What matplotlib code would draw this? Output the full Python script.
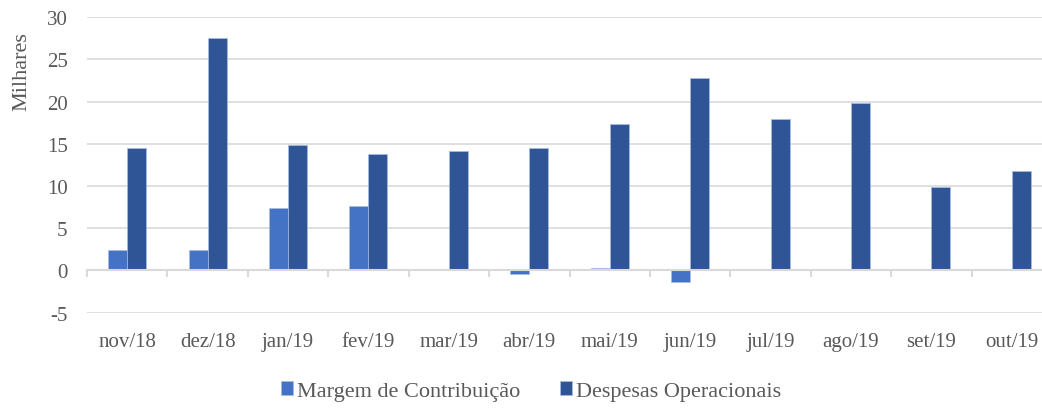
import matplotlib.pyplot as plt
import numpy as np

# chart data (thousands)
months = ['nov/18', 'dez/18', 'jan/19', 'fev/19', 'mar/19', 'abr/19',
          'mai/19', 'jun/19', 'jul/19', 'ago/19', 'set/19', 'out/19']
margem = [2.4, 2.4, 7.4, 7.6, 0.05, -0.4, 0.3, -1.4, 0.0, 0.0, 0.0, 0.0]
despesas = [14.5, 27.5, 14.9, 13.8, 14.2, 14.5, 17.3, 22.8, 18.0, 19.8, 9.9, 11.8]
y_ticks = [-5, 0, 5, 10, 15, 20, 25, 30]

plt.rcParams['font.family'] = ['Liberation Serif', 'DejaVu Serif']
plt.rcParams['axes.unicode_minus'] = False
text_color = '#595959'
grid_color = '#D9D9D9'

fig = plt.figure(figsize=(10.42, 4.10), dpi=100)
ax = fig.add_axes([87 / 1042, 1 - 313.6 / 410, 965 / 1042, (313.6 - 18.3) / 410])

x = np.arange(len(months))
w = 0.236
ax.bar(x - w / 2, margem, w, color='#4472C4', edgecolor='#A9BCE3', linewidth=0.5,
       label='Margem de Contribuição', zorder=3)
ax.bar(x + w / 2, despesas, w, color='#2F5597', edgecolor='#A9BCE3', linewidth=0.5,
       label='Despesas Operacionais', zorder=3)

ax.set_xlim(-0.5, len(months) - 0.5)
ax.set_ylim(-5, 30)
ax.set_yticks(y_ticks)
ax.yaxis.grid(True, color=grid_color, linewidth=1.2, zorder=0)
ax.tick_params(axis='y', length=0, pad=14, labelsize=15, labelcolor=text_color)

for s in ['top', 'right', 'left']:
    ax.spines[s].set_visible(False)
ax.spines['bottom'].set_position(('data', 0))
ax.spines['bottom'].set_color(grid_color)
ax.spines['bottom'].set_linewidth(1.5)
ax.spines['bottom'].set_zorder(4)

ax.set_xticks(x)
ax.set_xticklabels(months)
ax.set_xticks(np.arange(len(months) + 1) - 0.5, minor=True)
ax.tick_params(axis='x', which='major', length=0, pad=44, labelsize=15,
               labelcolor=text_color)
ax.tick_params(axis='x', which='minor', length=5, width=1.5, color=grid_color,
               direction='out')

fig.text(22 / 1042, 1 - 72 / 410, 'Milhares', rotation=90, ha='center', va='center',
         fontsize=16, color=text_color)

leg = fig.legend(loc='center', bbox_to_anchor=(531 / 1042, 1 - 392 / 410), ncol=2,
                 frameon=False, fontsize=16, handlelength=0.55, handleheight=0.55,
                 handletextpad=0.15, columnspacing=1.8, labelcolor=text_color)

fig.savefig('out.png', dpi=100)
